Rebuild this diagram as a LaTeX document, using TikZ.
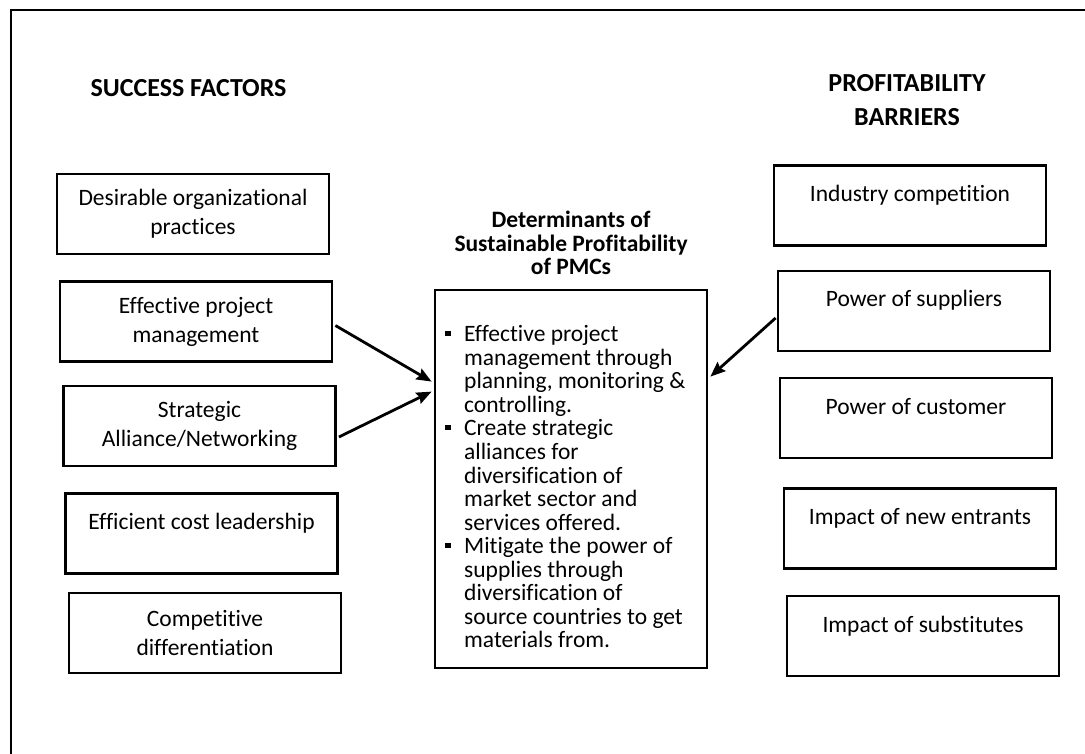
\documentclass[tikz,border=0pt]{standalone}
\usepackage{fontspec}
\setmainfont{Carlito}[Ligatures=CommonOff]
\usetikzlibrary{arrows.meta,calc}
\newcommand{\myBul}[1]{\hbox{\makebox[19pt][l]{\rule[5.5pt]{5.5pt}{5.5pt}}#1}}
\newcommand{\myCont}[1]{\hbox{\hspace*{19pt}#1}}
\begin{document}
\begin{tikzpicture}[x=1pt,y=-1pt,
  box/.style={draw,line width=2.8pt,minimum width=272pt,minimum height=80pt,inner sep=0pt,align=center,font=\fontsize{23.5}{29}\selectfont},
  onel/.style={text height=16pt,text depth=24pt},
  hdr/.style={font=\bfseries\fontsize{26}{29}\selectfont,inner sep=0pt,anchor=base},
  ttl/.style={font=\bfseries\fontsize{23.5}{29}\selectfont,inner sep=0pt,anchor=base},
  arr/.style={line width=2.8pt,-{Stealth[length=15pt,width=12pt,inset=2pt]}}]
\useasboundingbox (0,0) rectangle (1085,754);
\draw[line width=2.8pt] (11,754) -- (11,10) -- (1085,10);

% headings
\node[hdr] (sf) at (188.5,97) {SUCCESS FACTORS};
\node[hdr] (pb1) at (907,92) {PROFITABILITY};
\node[hdr] (pb2) at (907,126) {BARRIERS};

% left column
\node[box] (dop) at (193,214) {Desirable organizational\\practices};
\node[box] (epm) at (196,321.5) {Effective project\\management};
\node[box] (san) at (199.5,426) {Strategic\\Alliance/Networking};
\node[box,onel] (ecl) at (201.5,533.5) {Efficient cost leadership};
\node[box] (cd) at (205,633) {Competitive\\differentiation};

% right column
\node[box,onel] (ic) at (910,205.5) {Industry competition};
\node[box,onel] (pos) at (914,311) {Power of suppliers};
\node[box,onel] (poc) at (916,418) {Power of customer};
\node[box,onel] (ine) at (920,528.5) {Impact of new entrants};
\node[box,onel] (ios) at (923,636) {Impact of substitutes};

% centre
\node[ttl] (t1) at (571,228) {Determinants of};
\node[ttl] (t2) at (571,252) {Sustainable Profitability};
\node[ttl] (t3) at (571,275) {of PMCs};
\node[draw,line width=2.8pt,minimum width=272pt,minimum height=378pt,inner sep=0pt] (cb) at (571,479) {};
\node[anchor=base west,inner sep=0pt] (lst) at (445,341.7) {\vtop{\fontsize{23.5}{23.56}\selectfont\lineskiplimit=-100pt\lineskip=0pt
  \myBul{Effective project}
  \myCont{management through}
  \myCont{planning, monitoring \&}
  \myCont{controlling.}
  \myBul{Create strategic}
  \myCont{alliances for}
  \myCont{diversification of}
  \myCont{market sector and}
  \myCont{services offered.}
  \myBul{Mitigate the power of}
  \myCont{supplies through}
  \myCont{diversification of}
  \myCont{source countries to get}
  \myCont{materials from.}}};

% arrows
\draw[arr] ($(epm.east)+(2,4)$) -- ($(cb.north west)+(-2,93)$);
\draw[arr] ($(san.east)+(2,11)$) -- ($(cb.north west)+(-2,103)$);
\draw[arr] ($(pos.west)+(-1,7)$) -- ($(cb.north east)+(2,88)$);
\end{tikzpicture}
\end{document}
